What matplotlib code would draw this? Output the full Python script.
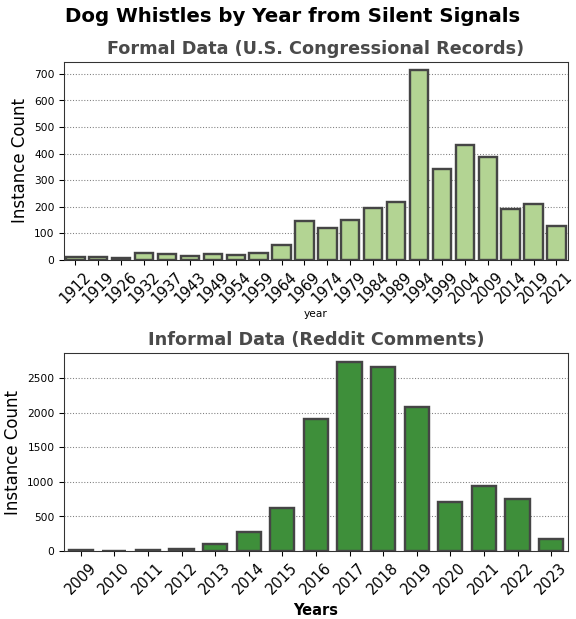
import matplotlib
matplotlib.use("Agg")
import matplotlib.pyplot as plt

# formal data (congressional records)
formal_years = ["1912", "1919", "1926", "1932", "1937", "1943", "1949", "1954", "1959", "1964",
                "1969", "1974", "1979", "1984", "1989", "1994", "1999", "2004", "2009", "2014",
                "2019", "2021"]
formal_counts = [10, 10, 8, 26, 21, 16, 23, 19, 24, 55,
                 145, 118, 149, 194, 217, 716, 342, 434, 388, 193,
                 209, 127]

# informal data (reddit comments)
informal_years = ["2009", "2010", "2011", "2012", "2013", "2014", "2015", "2016", "2017", "2018",
                  "2019", "2020", "2021", "2022", "2023"]
informal_counts = [10, 5, 8, 30, 95, 275, 625, 1913, 2730, 2653,
                   2077, 712, 937, 750, 168]

fig, (ax1, ax2) = plt.subplots(2, 1, figsize=(6, 6.45), dpi=96)
fig.subplots_adjust(left=0.111, right=0.986, top=0.9, bottom=0.11, hspace=0.47)

fig.suptitle("Dog Whistles by Year from Silent Signals", fontsize=14.8, fontweight="bold",
             x=0.508, y=0.988)

ax1.bar(range(len(formal_years)), formal_counts, width=0.8, color="#b3d493",
        edgecolor="#454545", linewidth=1.8, zorder=3)
ax1.set_xticks(range(len(formal_years)))
ax1.set_xticklabels(formal_years, rotation=45, fontsize=11)
ax1.set_xlim(-0.5, len(formal_years) - 0.5)
ax1.set_ylim(0, 746)
ax1.tick_params(axis="y", labelsize=8)
ax1.set_xlabel("year", fontsize=8, labelpad=2)
ax1.set_ylabel("Instance Count", fontsize=12.5)
ax1.set_title("Formal Data (U.S. Congressional Records)", fontsize=13.2, fontweight="bold",
              color="#4a4a4a")
ax1.yaxis.grid(True, linestyle=":", color="gray", linewidth=0.8, zorder=0)

ax2.bar(range(len(informal_years)), informal_counts, width=0.72, color="#3e8f3a",
        edgecolor="#454545", linewidth=1.8, zorder=3)
ax2.set_xticks(range(len(informal_years)))
ax2.set_xticklabels(informal_years, rotation=45, fontsize=11)
ax2.set_xlim(-0.5, len(informal_years) - 0.5)
ax2.set_ylim(0, 2865)
ax2.tick_params(axis="y", labelsize=8)
ax2.set_xlabel("Years", fontsize=11, fontweight="bold")
ax2.set_ylabel("Instance Count", fontsize=12.5)
ax2.set_title("Informal Data (Reddit Comments)", fontsize=13.2, fontweight="bold",
              color="#4a4a4a")
ax2.yaxis.grid(True, linestyle=":", color="gray", linewidth=0.8, zorder=0)

for ax in (ax1, ax2):
    for s in ax.spines.values():
        s.set_color("#333333")

fig.savefig("out.png", dpi=96)
